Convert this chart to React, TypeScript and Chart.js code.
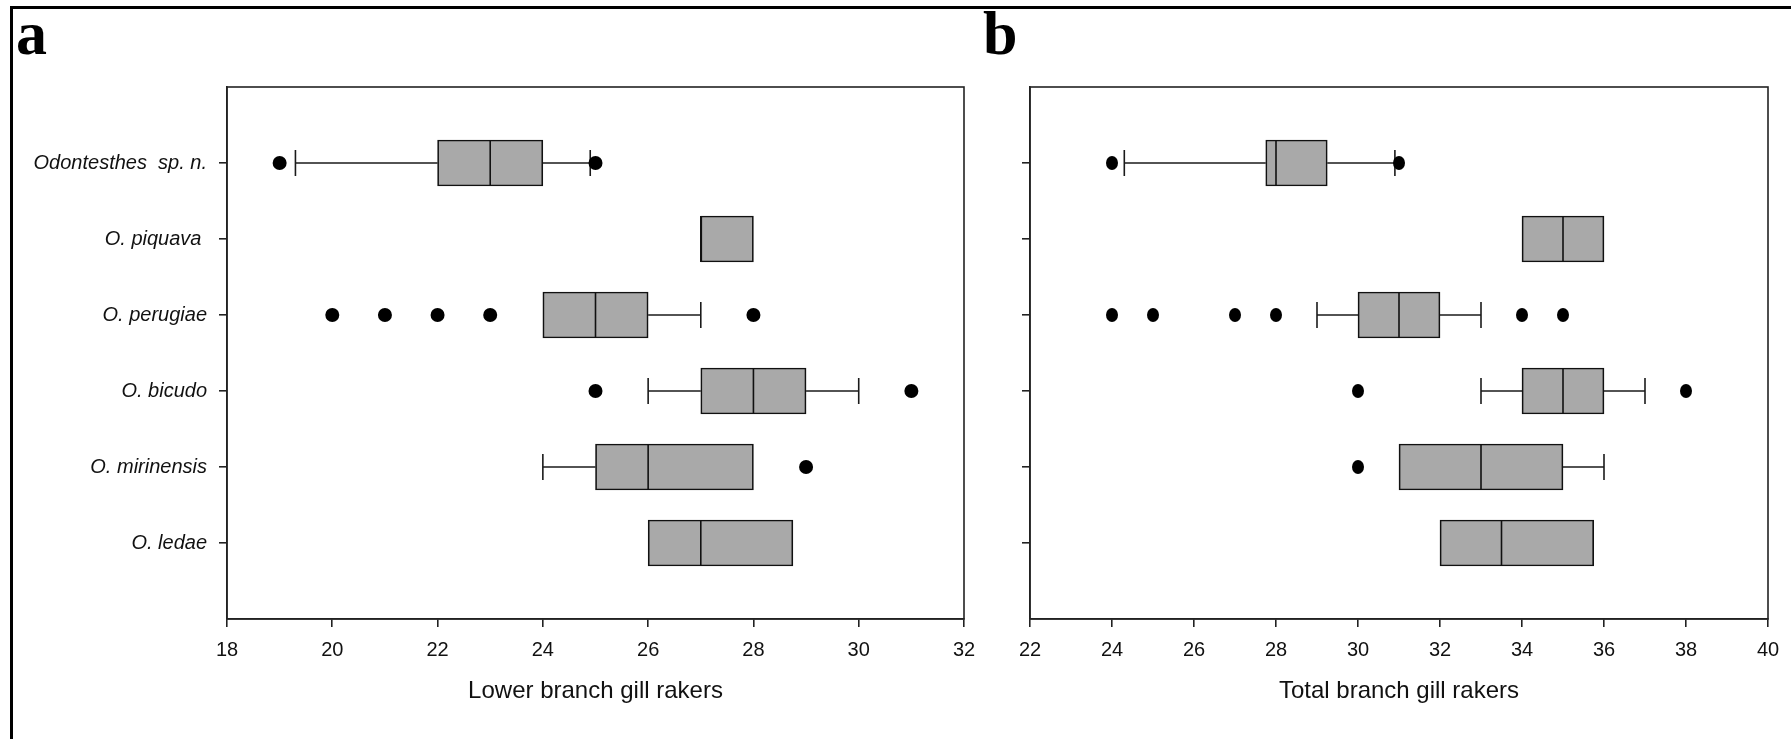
import React, { useEffect, useRef } from 'react';
import { Chart, registerables } from 'chart.js';

Chart.register(...registerables);

// ---------- data ----------
const species = ['Odontesthes  sp. n.', 'O. piquava ', 'O. perugiae', 'O. bicudo', 'O. mirinensis', 'O. ledae'];

// Panel a: lower branch gill rakers
const lowerAxisTicks = [18, 20, 22, 24, 26, 28, 30, 32];
const lowerQ1 = [22, 27, 24, 27, 25, 26];
const lowerMedian = [23, 27, 25, 28, 26, 27];
const lowerQ3 = [24, 28, 26, 29, 28, 28.75];
const lowerWhiskerLow: (number | null)[] = [19.3, null, null, 26, 24, null];
const lowerWhiskerHigh: (number | null)[] = [24.9, null, 27, 30, null, null];
const lowerOutliers = [[19, 25], [], [20, 21, 22, 23, 28], [25, 31], [29], []];

// Panel b: total branch gill rakers
const totalAxisTicks = [22, 24, 26, 28, 30, 32, 34, 36, 38, 40];
const totalQ1 = [27.75, 34, 30, 34, 31, 32];
const totalMedian = [28, 35, 31, 35, 33, 33.5];
const totalQ3 = [29.25, 36, 32, 36, 35, 35.75];
const totalWhiskerLow: (number | null)[] = [24.3, null, 29, 33, null, null];
const totalWhiskerHigh: (number | null)[] = [30.9, null, 33, 37, 36, null];
const totalOutliers = [[24, 31], [], [24, 25, 27, 28, 34, 35], [30, 38], [30], []];

const FONT = '"Liberation Sans", Arial, Helvetica, sans-serif';
const BOX_H = 46;
const CAP = 13;

type Panel = {
  q1: number[];
  median: number[];
  q3: number[];
  wLo: (number | null)[];
  wHi: (number | null)[];
  outliers: number[][];
  ticks: number[];
  title: string;
  showLabels: boolean;
  yAxisWidth: number;
  padRight: number;
  ellipse: boolean;
};

function ellipseImage(rx: number, ry: number) {
  const c = document.createElement('canvas');
  c.width = rx * 2;
  c.height = ry * 2;
  const g = c.getContext('2d')!;
  g.fillStyle = '#000';
  g.beginPath();
  g.ellipse(rx, ry, rx, ry, 0, 0, Math.PI * 2);
  g.fill();
  return c;
}

function boxPlugin(p: Panel) {
  const seg = (ctx: CanvasRenderingContext2D, x1: number, y1: number, x2: number, y2: number) => {
    ctx.beginPath();
    ctx.moveTo(x1, y1);
    ctx.lineTo(x2, y2);
    ctx.stroke();
  };
  return {
    id: 'boxExtras',
    beforeDatasetsDraw(chart: any) {
      const { ctx, scales } = chart;
      const x = scales.x;
      const y = scales.y;
      ctx.save();
      ctx.strokeStyle = '#1a1a1a';
      ctx.lineWidth = 1.6;
      p.q1.forEach((q1, i) => {
        const yc = y.getPixelForValue(i + 1);
        const lo = p.wLo[i];
        const hi = p.wHi[i];
        if (lo != null) {
          const xl = x.getPixelForValue(lo);
          seg(ctx, xl, yc, x.getPixelForValue(q1), yc);
          seg(ctx, xl, yc - CAP, xl, yc + CAP);
        }
        if (hi != null) {
          const xh = x.getPixelForValue(hi);
          seg(ctx, x.getPixelForValue(p.q3[i]), yc, xh, yc);
          seg(ctx, xh, yc - CAP, xh, yc + CAP);
        }
      });
      ctx.restore();
    },
    afterDatasetsDraw(chart: any) {
      const { ctx, scales } = chart;
      const x = scales.x;
      const y = scales.y;
      ctx.save();
      ctx.strokeStyle = '#111';
      ctx.lineWidth = 1.6;
      p.median.forEach((m, i) => {
        const yc = y.getPixelForValue(i + 1);
        const xm = x.getPixelForValue(m);
        seg(ctx, xm, yc - BOX_H / 2, xm, yc + BOX_H / 2);
      });
      ctx.restore();
    },
    afterDraw(chart: any) {
      const { ctx, chartArea } = chart;
      ctx.save();
      ctx.strokeStyle = '#222';
      ctx.lineWidth = 1.6;
      ctx.strokeRect(chartArea.left, chartArea.top, chartArea.right - chartArea.left, chartArea.bottom - chartArea.top);
      ctx.restore();
    },
  };
}

function makeChart(canvas: HTMLCanvasElement, p: Panel) {
  const boxes = p.q1.map((q1, i) => ({ x: [q1, p.q3[i]], y: i + 1 }));
  const pts: { x: number; y: number }[] = [];
  p.outliers.forEach((arr, i) => arr.forEach((v) => pts.push({ x: v, y: i + 1 })));
  const pointStyle: any = p.ellipse ? ellipseImage(6, 7) : 'circle';

  return new Chart(canvas, {
    type: 'bar',
    data: {
      datasets: [
        {
          type: 'bar',
          data: boxes as any,
          backgroundColor: '#a9a9a9',
          borderColor: '#111',
          borderWidth: 1.7,
          borderSkipped: false,
          barThickness: BOX_H,
          order: 1,
        } as any,
        {
          type: 'scatter',
          data: pts,
          backgroundColor: '#000',
          borderColor: '#000',
          borderWidth: 0,
          pointRadius: 7,
          pointStyle,
          order: 0,
        } as any,
      ],
    },
    options: {
      indexAxis: 'y',
      animation: false,
      responsive: false,
      events: [],
      layout: { padding: { left: 0, right: p.padRight, top: 87, bottom: 0 } },
      plugins: { legend: { display: false }, tooltip: { enabled: false } },
      scales: {
        x: {
          type: 'linear',
          position: 'bottom',
          offset: false,
          min: p.ticks[0],
          max: p.ticks[p.ticks.length - 1],
          afterBuildTicks: (s: any) => {
            s.ticks = p.ticks.map((v) => ({ value: v }));
          },
          afterFit: (s: any) => {
            s.height = 120;
          },
          grid: { offset: false, drawOnChartArea: false, drawTicks: true, tickLength: 8, color: '#222', lineWidth: 1.6 },
          border: { display: true, color: '#222', width: 1.6 },
          ticks: { color: '#111', font: { family: FONT, size: 20 }, padding: 11, maxRotation: 0, autoSkip: false },
          title: {
            display: true,
            text: p.title,
            color: '#111',
            font: { family: FONT, size: 24 },
            padding: { top: 0, bottom: 33 },
          },
        },
        y: {
          type: 'linear',
          position: 'left',
          offset: false,
          min: 0,
          max: 7,
          reverse: true,
          afterBuildTicks: (s: any) => {
            s.ticks = species.map((_, i) => ({ value: i + 1 }));
          },
          afterFit: (s: any) => {
            s.width = p.yAxisWidth;
          },
          grid: { offset: false, drawOnChartArea: false, drawTicks: true, tickLength: 8, color: '#222', lineWidth: 1.6 },
          border: { display: true, color: '#222', width: 1.6 },
          ticks: {
            color: '#111',
            padding: 12,
            autoSkip: false,
            font: { family: FONT, size: 20, style: 'italic' },
            callback: (v: any) => (p.showLabels ? species[Number(v) - 1] ?? '' : ''),
          },
        },
      } as any,
    },
    plugins: [boxPlugin(p)],
  } as any);
}

export default function App() {
  const leftRef = useRef<HTMLCanvasElement>(null);
  const rightRef = useRef<HTMLCanvasElement>(null);

  useEffect(() => {
    const left = makeChart(leftRef.current!, {
      q1: lowerQ1,
      median: lowerMedian,
      q3: lowerQ3,
      wLo: lowerWhiskerLow,
      wHi: lowerWhiskerHigh,
      outliers: lowerOutliers,
      ticks: lowerAxisTicks,
      title: 'Lower branch gill rakers',
      showLabels: true,
      yAxisWidth: 227,
      padRight: 26,
      ellipse: false,
    });
    const right = makeChart(rightRef.current!, {
      q1: totalQ1,
      median: totalMedian,
      q3: totalQ3,
      wLo: totalWhiskerLow,
      wHi: totalWhiskerHigh,
      outliers: totalOutliers,
      ticks: totalAxisTicks,
      title: 'Total branch gill rakers',
      showLabels: false,
      yAxisWidth: 40,
      padRight: 23,
      ellipse: true,
    });
    return () => {
      left.destroy();
      right.destroy();
    };
  }, []);

  const panelLabel: React.CSSProperties = {
    position: 'absolute',
    top: 2,
    fontFamily: '"Liberation Serif", "Times New Roman", serif',
    fontWeight: 'bold',
    fontSize: 62,
    lineHeight: '62px',
    color: '#000',
  };

  return (
    <div style={{ position: 'fixed', left: 0, top: 0, width: 1791, height: 739, background: '#fff', overflow: 'hidden' }}>
      <div style={{ position: 'absolute', left: 10, top: 6, width: 3, height: 733, background: '#000' }} />
      <div style={{ position: 'absolute', left: 10, top: 6, width: 1781, height: 3, background: '#000' }} />
      <div style={{ ...panelLabel, left: 16 }}>a</div>
      <div style={{ ...panelLabel, left: 983 }}>b</div>
      <canvas ref={leftRef} width={990} height={739} style={{ position: 'absolute', left: 0, top: 0 }} />
      <canvas ref={rightRef} width={801} height={739} style={{ position: 'absolute', left: 990, top: 0 }} />
    </div>
  );
}
